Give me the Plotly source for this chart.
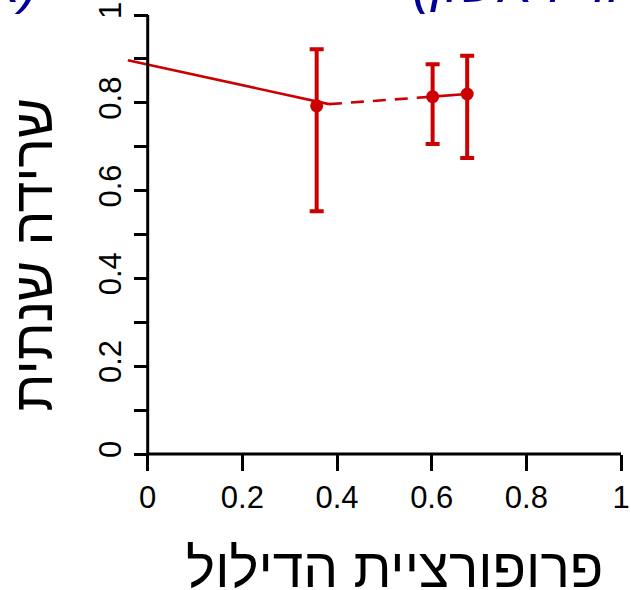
import plotly.graph_objects as go

# ---- data ----
x_points = [0.357, 0.602, 0.675]
y_points = [0.793, 0.814, 0.820]
y_upper = [0.922, 0.888, 0.907]
y_lower = [0.553, 0.706, 0.674]

fit_solid_x = [-0.042, 0.383]
fit_solid_y = [0.897, 0.797]
fit_dash_x = [0.383, 0.602]
fit_dash_y = [0.797, 0.814]
fit_seg_x = [0.602, 0.675]
fit_seg_y = [0.814, 0.820]

x_tick_vals = [0, 0.2, 0.4, 0.6, 0.8, 1]
x_tick_text = ["0", "0.2", "0.4", "0.6", "0.8", "1"]
y_tick_vals = [0, 0.1, 0.2, 0.3, 0.4, 0.5, 0.6, 0.7, 0.8, 0.9, 1]
y_tick_text = ["0", "", "0.2", "", "0.4", "", "0.6", "", "0.8", "", "1"]

x_title = "פרופורציית הדילול"
y_title = "שרידה שנתית"
title_left = "(א)"
title_right = "(דור ראשון)"

RED = "#CC0000"
BLUE = "#000099"
FONT = "Liberation Sans, Arial, sans-serif"

err_plus = [u - y for u, y in zip(y_upper, y_points)]
err_minus = [y - l for l, y in zip(y_lower, y_points)]

fig = go.Figure()
fig.add_trace(go.Scatter(x=fit_solid_x, y=fit_solid_y, mode="lines",
                         line=dict(color=RED, width=2.6), hoverinfo="skip"))
fig.add_trace(go.Scatter(x=fit_dash_x, y=fit_dash_y, mode="lines",
                         line=dict(color=RED, width=2.6, dash="13px,9px"), hoverinfo="skip"))
fig.add_trace(go.Scatter(x=fit_seg_x, y=fit_seg_y, mode="lines",
                         line=dict(color=RED, width=2.6), hoverinfo="skip"))
fig.add_trace(go.Scatter(
    x=x_points, y=y_points, mode="markers",
    marker=dict(color=RED, size=13),
    error_y=dict(type="data", symmetric=False, array=err_plus, arrayminus=err_minus,
                 color=RED, thickness=4, width=7),
))

# axis lines spanning only the labelled range (R style)
fig.add_shape(type="line", xref="x", yref="y", x0=x_tick_vals[0], x1=x_tick_vals[-1], y0=0, y1=0,
              line=dict(color="black", width=3))
fig.add_shape(type="line", xref="x", yref="y", x0=0, x1=0, y0=y_tick_vals[0], y1=y_tick_vals[-1],
              line=dict(color="black", width=3))

W, H = 631, 590
x0_px, x_scale = 147.7, 473.3
y0_px, y_scale = 454.0, 439.0

fig.update_layout(
    width=W, height=H,
    margin=dict(l=0, r=0, t=0, b=0, autoexpand=False),
    plot_bgcolor="white", paper_bgcolor="white",
    showlegend=False,
    font=dict(family=FONT, color="black"),
    xaxis=dict(range=[-x0_px / x_scale, (W - x0_px) / x_scale],
               showgrid=False, zeroline=False, showline=False,
               tickmode="array", tickvals=x_tick_vals, ticktext=x_tick_text,
               ticks="outside", ticklen=16, tickwidth=3, tickcolor="black",
               tickfont=dict(size=31, family=FONT, color="black"),
               anchor="free", position=(H - y0_px) / H, automargin=False),
    yaxis=dict(range=[(y0_px - H) / y_scale, y0_px / y_scale],
               showgrid=False, zeroline=False, showline=False,
               tickmode="array", tickvals=y_tick_vals, ticktext=y_tick_text,
               ticks="outside", ticklen=14, tickwidth=3, tickcolor="black",
               tickangle=-90,
               tickfont=dict(size=31, family=FONT, color="black"),
               anchor="free", position=x0_px / W, automargin=False),
)

fig.add_annotation(text=x_title, xref="paper", yref="paper", x=394 / W, y=(H - 567.5) / H,
                   xanchor="center", yanchor="middle", showarrow=False,
                   font=dict(size=55, family=FONT, color="black"))
fig.add_annotation(text=y_title, xref="paper", yref="paper", x=32 / W, y=(H - 254.5) / H,
                   xanchor="center", yanchor="middle", textangle=-90, showarrow=False,
                   font=dict(size=55, family=FONT, color="black"))
fig.add_annotation(text=title_left, xref="paper", yref="paper", x=40 / W, y=1 + 17 / H,
                   xanchor="right", yanchor="middle", showarrow=False,
                   font=dict(size=55, family=FONT, color=BLUE, style="italic"))
fig.add_annotation(text=title_right, xref="paper", yref="paper", x=410 / W, y=1 + 17 / H,
                   xanchor="left", yanchor="middle", showarrow=False,
                   font=dict(size=55, family=FONT, color=BLUE, style="italic"))

fig.write_html("out.html",
               config={"displayModeBar": False},
               post_script="document.body.style.margin='0';document.body.style.padding='0';")
